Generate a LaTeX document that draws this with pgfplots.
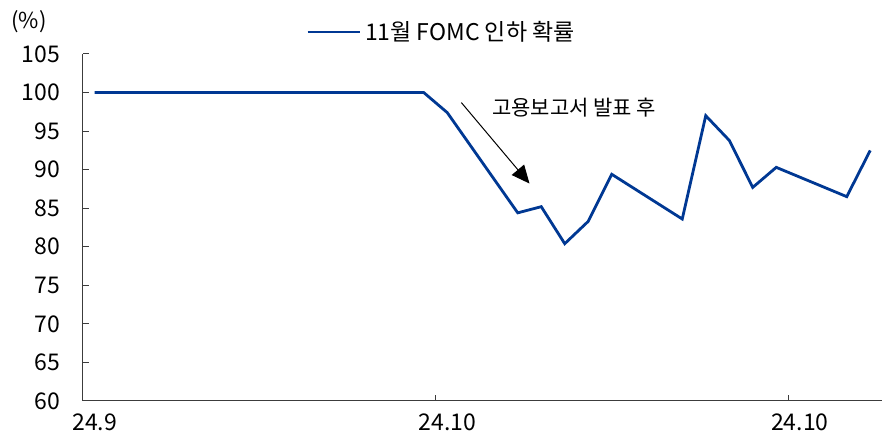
\documentclass[border=0pt]{standalone}
\usepackage{fontspec}
\setmainfont{Noto Sans CJK KR}
\usepackage{pgfplots}
\pgfplotsset{compat=1.18}
\usetikzlibrary{arrows.meta}
\definecolor{lineblue}{RGB}{0,56,147}
\definecolor{axisgray}{RGB}{60,60,60}
\begin{document}
\begin{tikzpicture}
\begin{axis}[
    at={(0,0)}, anchor=south west,
    scale only axis,
    width=399.5pt, height=173.5pt,
    xmin=-0.5, xmax=33.5,
    ymin=60, ymax=105,
    ytick={60,65,...,105},
    xtick={-0.5,14.5,29.5},
    xticklabels={24.9,24.10,24.10},
    xticklabel style={xshift=5.9pt, yshift=-3pt, font=\fontsize{11.5}{13}\selectfont},
    yticklabel style={font=\fontsize{11.5}{13}\selectfont, xshift=-8pt},
    /pgf/number format/assume math mode=true,
    axis lines=left,
    axis line style={axisgray, line width=0.5pt, -},
    tick style={axisgray, line width=0.5pt},
    tick align=inside,
    major tick length=3pt,
    legend style={draw=none, fill=none, at={(0.45,1)}, anchor=center, yshift=11pt,
        font=\fontsize{11.5}{13}\selectfont, legend cell align=left},
    legend image code/.code={\draw[#1] (0pt,0pt) -- (26pt,0pt);},
    clip=false,
]
\addplot[lineblue, line width=1.4pt] coordinates {
    (0,100) (14,100) (15,97.4) (18,84.4) (19,85.2) (20,80.4) (21,83.3)
    (22,89.4) (25,83.6) (26,97.0) (27,93.8) (28,87.7) (29,90.3) (32,86.5) (33,92.5)
};
\legend{11월 FOMC 인하 확률}
\draw[black, line width=0.5pt, -{Triangle[length=9pt,width=8pt]}]
    (axis cs:15.6,98.7) -- (axis cs:18.5,88.2);
\node[font=\fontsize{10.5}{12}\selectfont] at (axis cs:20.4,98.0) {고용보고서 발표 후};
\node[font=\fontsize{11}{12}\selectfont] at (-27pt,189.5pt) {(\%)};
\end{axis}
\pgfresetboundingbox
\path (-41.5pt,-18pt) rectangle (399.5pt,200.5pt);
\end{tikzpicture}
\end{document}
